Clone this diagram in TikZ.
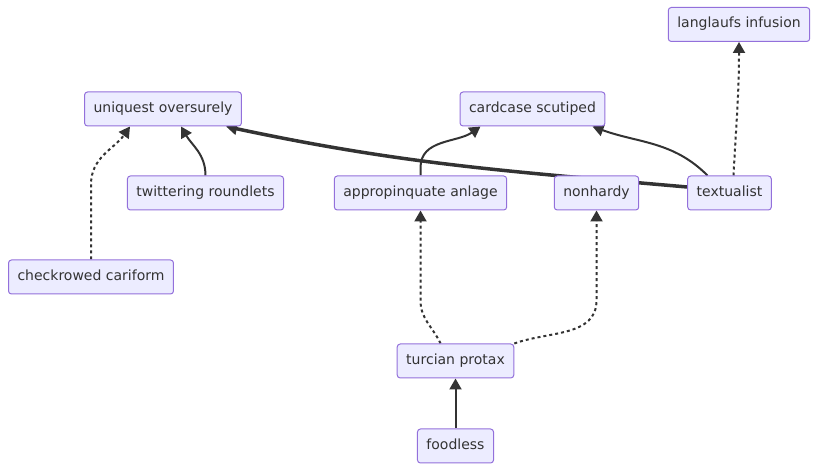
\documentclass[tikz,border=0pt]{standalone}
\usepackage{fontspec}
\setmainfont{DejaVu Sans}
\usepackage{xcolor}
\usepackage{tikz}
\usetikzlibrary{
		arrows.meta,
		backgrounds,
		positioning
	}
\definecolor{entity-fill}{HTML}{ECECFF}
\definecolor{entity-border}{HTML}{9370DB}
\definecolor{ink}{HTML}{333333}
\tikzset{%
		entity/.style = {
			draw = entity-border,
			fill = entity-fill,
			text = ink,
			rectangle,
			rounded corners = 3pt,
			line width = 1pt,
			minimum height = 34pt,
			inner xsep = 9pt,
			text height = 10pt,
			text depth = 3pt,
			font = \fontsize{14}{16}\selectfont
		},
		link/.style = {
			draw = ink,
			line width = 2pt,
			-{Triangle[length = 11pt, width = 12pt]}
		},
		weaklink/.style = {
			link,
			dash pattern = on 3pt off 3pt
		},
		heavylink/.style = {
			link,
			line width = 3.5pt
		}
	}

\begin{document}
\begin{tikzpicture}[x = 1pt, y = 1pt]
		\useasboundingbox (0, 0) rectangle (818, 470);
		\node [entity] (li) at (739, 445.5) {langlaufs infusion};
		\node [entity] (uo) at (163, 361) {uniquest oversurely};
		\node [entity] (cs) at (532.5, 361) {cardcase scutiped};
		\node [entity] (tr) at (205.5, 277) {twittering roundlets};
		\node [entity] (aa) at (420.5, 277) {appropinquate anlage};
		\node [entity] (nh) at (596.5, 277) {nonhardy};
		\node [entity] (tx) at (729.5, 277) {textualist};
		\node [entity] (cc) at (91, 193) {checkrowed cariform};
		\node [entity] (tp) at (455.5, 109) {turcian protax};
		\node [entity, below = 50pt of tp] (fl) {foodless};
		\begin{scope}[on background layer]
			\draw [weaklink] (cc.north) -- ++(0, 75) to[out = 90, in = -125] ([xshift = -33pt]uo.south);
			\draw [link] (tr.north) to[out = 90, in = -60] ([xshift = 18pt]uo.south);
			\draw [heavylink] ([yshift = 6pt]tx.west) to[out = 175, in = -12] ([xshift = 63pt]uo.south);
			\draw [link] (aa.north) -- ++(0, 8) to[out = 90, in = -145] ([xshift = -52pt]cs.south);
			\draw [link] ([xshift = -22pt]tx.north) to[out = 135, in = -20] ([xshift = 60pt]cs.south);
			\draw [weaklink] ([xshift = 4pt]tx.north) to[out = 87, in = -90] (li.south);
			\draw [weaklink] ([xshift = -15pt]tp.north) to[out = 115, in = -90] ([yshift = -90pt]aa.south) -- (aa.south);
			\draw [weaklink] (tp.north east) to[out = 20, in = -90] ([yshift = -90pt]nh.south) -- (nh.south);
			\draw [link] (fl.north) -- (tp.south);
		\end{scope}
	\end{tikzpicture}
\end{document}
